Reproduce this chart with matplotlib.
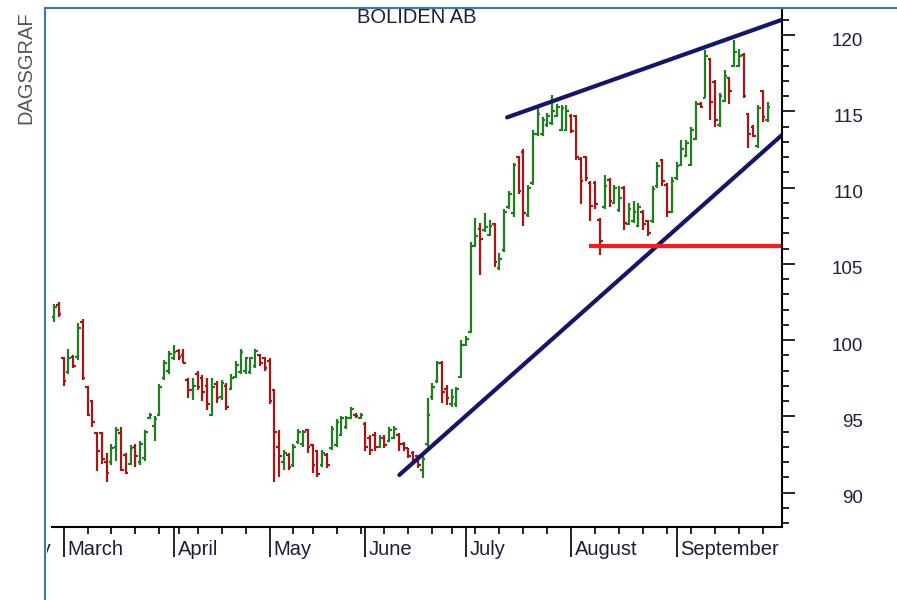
import matplotlib
matplotlib.use('Agg')
import matplotlib.pyplot as plt
from matplotlib.lines import Line2D
from matplotlib.transforms import ScaledTranslation
import numpy as np
import pandas as pd

plt.rcParams['font.family'] = ['Liberation Sans', 'DejaVu Sans']

title = 'BOLIDEN AB'
side_label = 'DAGSGRAF'
first_day = '2010-02-25'
holidays = ['2010-04-02', '2010-04-05', '2010-05-13', '2010-06-25']
month_names = ['February', 'March', 'April', 'May', 'June', 'July', 'August', 'September']

# daily bars: open, high, low, close
opens = [101.5, 102.3, 98.8, 97.9, 98.9, 98.9, 101.2, 96.9, 96.0, 93.9,
         93.9, 92.0, 92.0, 93.0, 93.9, 92.5, 91.9, 93.0, 92.0, 92.3,
         94.9, 94.4, 95.1, 97.5, 98.0, 98.8, 99.3, 99.0, 97.4, 96.7,
         97.8, 97.5, 97.0, 95.1, 97.1, 96.3, 97.0, 96.8, 97.6, 97.9,
         98.0, 97.9, 98.3, 99.0, 98.8, 98.6, 96.7, 93.0, 92.0, 92.5,
         91.8, 93.3, 93.2, 94.1, 93.1, 92.7, 91.8, 92.5, 92.9, 93.1,
         93.8, 94.3, 94.9, 95.1, 94.9, 94.5, 93.6, 93.8, 93.0, 93.6,
         93.4, 93.6, 93.8, 93.2, 92.9, 92.6, 92.4, 91.5, 93.2, 96.3,
         97.3, 98.5, 96.8, 95.8, 95.8, 97.6, 99.7, 100.5, 106.2, 107.3,
         107.2, 106.9, 107.6, 104.7, 105.9, 108.7, 108.3, 112.0, 112.3, 108.2,
         110.3, 113.5, 113.5, 114.1, 114.2, 114.7, 113.8, 113.8, 114.7, 114.7,
         111.9, 112.0, 110.3, 110.3, 107.9, 108.7, 110.5, 109.0, 108.5, 110.0,
         107.6, 107.8, 107.5, 108.4, 107.8, 107.8, 110.1, 111.8, 110.2, 108.4,
         110.6, 111.5, 112.1, 111.5, 113.2, 115.5, 115.9, 118.4, 116.9, 114.1,
         115.7, 117.2, 118.0, 118.0, 118.7, 114.8, 114.0, 112.7, 116.3, 114.4]
highs = [102.4, 102.5, 98.9, 99.4, 99.0, 101.1, 101.4, 97.0, 96.1, 94.0,
         94.0, 92.6, 93.2, 94.3, 94.3, 92.6, 93.1, 93.2, 93.4, 94.1,
         95.2, 95.0, 97.1, 98.7, 99.3, 99.7, 99.4, 99.4, 97.5, 97.5,
         98.0, 97.7, 97.5, 97.5, 97.3, 97.4, 97.2, 97.8, 98.6, 99.4,
         98.9, 98.9, 99.4, 99.1, 98.9, 98.8, 96.8, 94.1, 92.8, 92.6,
         93.2, 94.2, 94.1, 94.2, 93.2, 92.8, 92.8, 92.6, 94.4, 94.8,
         95.0, 95.0, 95.6, 95.2, 95.2, 94.6, 93.8, 94.0, 93.8, 93.8,
         94.3, 94.4, 93.9, 93.3, 92.9, 92.7, 92.5, 92.4, 96.2, 97.2,
         98.6, 98.6, 97.05, 96.8, 96.95, 100.0, 100.3, 106.45, 107.98, 107.65,
         108.3, 107.9, 107.65, 105.7, 108.6, 109.8, 111.6, 112.1, 112.5, 110.2,
         113.8, 115.3, 114.6, 114.9, 116.07, 115.5, 115.4, 115.4, 114.8, 114.75,
         112.0, 112.1, 110.4, 110.4, 108.0, 110.8, 110.6, 110.2, 110.1, 110.1,
         109.0, 109.1, 109.0, 108.5, 107.9, 110.1, 111.7, 111.9, 110.3, 110.7,
         111.7, 113.1, 113.1, 114.0, 115.7, 115.6, 119.0, 118.5, 117.05, 116.2,
         117.7, 117.27, 119.67, 119.1, 118.8, 114.9, 114.1, 115.4, 116.4, 115.6]
lows = [101.2, 101.5, 97.0, 97.8, 98.2, 98.7, 97.4, 95.0, 94.3, 91.4,
        91.9, 90.7, 91.8, 92.1, 91.4, 91.2, 91.8, 91.7, 91.8, 92.1,
        94.8, 93.4, 95.0, 97.4, 97.8, 98.7, 98.7, 98.5, 96.2, 96.1,
        96.7, 96.0, 95.4, 95.0, 95.9, 96.1, 95.4, 96.7, 97.5, 97.8,
        97.8, 97.8, 98.2, 98.3, 98.0, 95.8, 90.7, 91.05, 91.5, 91.5,
        91.7, 93.2, 93.0, 92.6, 91.3, 91.0, 91.7, 91.6, 92.8, 93.0,
        93.7, 94.2, 94.8, 94.9, 94.8, 92.7, 92.5, 92.7, 92.9, 92.9,
        93.3, 93.5, 92.7, 92.7, 92.3, 91.8, 91.6, 90.95, 93.0, 96.1,
        97.2, 95.9, 95.75, 95.6, 95.6, 97.5, 99.6, 100.45, 106.1, 104.27,
        107.1, 106.8, 104.8, 104.6, 105.8, 108.6, 108.1, 109.6, 107.5, 108.1,
        110.2, 113.4, 113.4, 114.0, 114.1, 114.6, 113.7, 113.7, 113.6, 111.8,
        108.9, 110.4, 107.8, 108.6, 105.58, 108.6, 108.75, 108.9, 108.4, 107.2,
        107.55, 107.65, 107.4, 107.2, 106.8, 107.65, 110.0, 110.1, 108.1, 108.3,
        110.5, 111.4, 112.0, 111.4, 113.1, 115.2, 115.85, 114.4, 114.0, 114.0,
        115.6, 115.5, 117.9, 117.9, 115.85, 112.6, 113.3, 112.6, 114.3, 114.3]
closes = [102.2, 101.7, 97.3, 98.8, 98.3, 100.8, 97.5, 95.1, 94.6, 92.7,
          92.2, 91.3, 92.9, 94.1, 91.5, 91.3, 92.9, 92.4, 93.2, 94.0,
          95.1, 94.8, 96.9, 98.5, 99.1, 99.2, 98.9, 98.5, 96.7, 97.0,
          96.9, 96.6, 95.8, 96.9, 96.2, 97.2, 95.6, 97.5, 98.4, 99.2,
          98.8, 98.8, 99.3, 98.5, 98.2, 96.0, 94.0, 92.4, 92.6, 91.7,
          93.0, 94.0, 94.0, 93.0, 91.8, 91.2, 92.6, 91.8, 94.2, 94.6,
          94.9, 94.9, 95.5, 95.0, 95.1, 93.0, 92.8, 93.0, 93.6, 93.1,
          94.1, 94.2, 93.2, 92.9, 92.4, 92.0, 91.8, 92.2, 95.1, 96.9,
          98.5, 96.6, 96.2, 96.3, 96.8, 99.7, 100.1, 106.2, 106.8, 106.6,
          107.4, 107.5, 105.1, 105.3, 108.4, 109.6, 111.5, 109.8, 108.3, 110.0,
          113.5, 114.8, 114.4, 114.7, 115.0, 115.3, 115.2, 115.0, 113.7, 112.0,
          110.4, 110.6, 108.8, 108.9, 106.5, 110.1, 109.1, 110.0, 109.3, 107.7,
          108.6, 108.4, 108.7, 107.6, 107.0, 109.9, 111.4, 110.4, 108.4, 110.4,
          111.4, 112.5, 112.9, 113.8, 115.5, 115.3, 118.6, 115.6, 114.4, 116.0,
          117.3, 116.3, 118.9, 118.6, 116.0, 113.5, 113.4, 115.2, 114.6, 115.3]

# trend lines, x in trading days from first_day
upper_x = [94.6, 152.0]
upper_y = [114.6, 121.0]
lower_x = [72.1, 152.0]
lower_y = [91.16, 113.45]
support_x = [112.1, 152.0]
support_y = [106.17, 106.17]

green = '#1f7f1f'
red = '#a51616'
navy = '#15156e'
frame = '#3b78b0'
txt = '#1e1e3a'
W, H = 897, 600

fig = plt.figure(figsize=(W / 100, H / 100), dpi=100)
L, R, T, B = 52, 782, 8, 527
ax = fig.add_axes([L / W, 1 - B / H, (R - L) / W, (B - T) / H])

o = np.array(opens)
h = np.array(highs)
lo = np.array(lows)
c = np.array(closes)
x = np.arange(len(o))
col = np.where(c >= o, green, red)
tk = 0.55
ax.vlines(x, lo, h, colors=col, lw=1.6)
ax.hlines(o, x - tk, x, colors=col, lw=1.6)
ax.hlines(c, x, x + tk, colors=col, lw=1.6)

ax.plot(upper_x, upper_y, color=navy, lw=3.0, solid_capstyle='round')
ax.plot(lower_x, lower_y, color=navy, lw=3.0, solid_capstyle='round')
ax.plot(support_x, support_y, color='#ff1a1a', lw=3.0)

# calendar for month / week ticks
cal = pd.bdate_range('2010-02-01', '2010-09-30', freq='C', holidays=holidays)
off = int(np.where(cal == pd.Timestamp(first_day))[0][0])
pos = np.arange(len(cal)) - off
month_first = [pos[i] for i in range(len(cal)) if i == 0 or cal[i].month != cal[i - 1].month]
week_first = [pos[i] for i in range(1, len(cal))
              if cal[i].isocalendar()[1] != cal[i - 1].isocalendar()[1]
              and cal[i].month == cal[i - 1].month]

ax.set_xticks(month_first)
ax.set_xticks(week_first, minor=True)
ax.tick_params(axis='x', which='major', length=21.5, width=1.2, color='black', labelbottom=False)
ax.tick_params(axis='x', which='minor', length=5, width=1.2, color='black')

ax.yaxis.tick_right()
ax.set_yticks(np.arange(90, 121, 5))
ax.set_yticks(np.arange(88, 122, 1), minor=True)
ax.tick_params(axis='y', which='major', length=9.5, width=1.2, pad=49,
               labelsize=13.5, labelcolor=txt)
ax.tick_params(axis='y', which='minor', length=5, width=1.2)
shift = ScaledTranslation(0, -4 / 100, fig.dpi_scale_trans)
for lab in ax.get_yticklabels():
    lab.set_horizontalalignment('right')
    lab.set_transform(lab.get_transform() + shift)

xlim = (-0.42, 152.0)
ax.set_xlim(xlim)
ax.set_ylim(87.75, 121.77)

for s in ['top', 'left']:
    ax.spines[s].set_visible(False)
for s in ['bottom', 'right']:
    ax.spines[s].set_linewidth(1.5)
    ax.spines[s].set_color('black')

ax.text(0.5, 0.982, title, transform=ax.transAxes, ha='center', va='center',
        fontsize=14.5, color=txt)

# month names under the axis, clipped to the axis width; the month before
# the first whole month only shows its tail, as in the source
lab_ax = fig.add_axes([47 / W, 1 - 570 / H, (R - 47) / W, 43 / H])
px = (R - L) / (xlim[1] - xlim[0])
lab_ax.set_xlim(xlim[0] - (L - 47) / px, xlim[1])
lab_ax.set_ylim(0, 1)
lab_ax.axis('off')
lab_ax.text(month_first[1] - 2.6, 0.47, month_names[0], ha='right', va='center',
            fontsize=14.5, color=txt, clip_on=True)
for xm, name in zip(month_first[1:], month_names[1:]):
    lab_ax.text(xm + 0.8, 0.47, name, ha='left', va='center', fontsize=14.5,
                color=txt, clip_on=True)

fig.text(26 / W, 1 - 68 / H, side_label, rotation=90, ha='center', va='center',
         fontsize=14.5, color='#555555')

fig.add_artist(Line2D([45 / W, 45 / W], [0, 1 - 8 / H], color=frame, lw=1.5))
fig.add_artist(Line2D([45 / W, 1], [1 - 8 / H, 1 - 8 / H], color=frame, lw=1.5))

fig.savefig('out.png', dpi=100)
